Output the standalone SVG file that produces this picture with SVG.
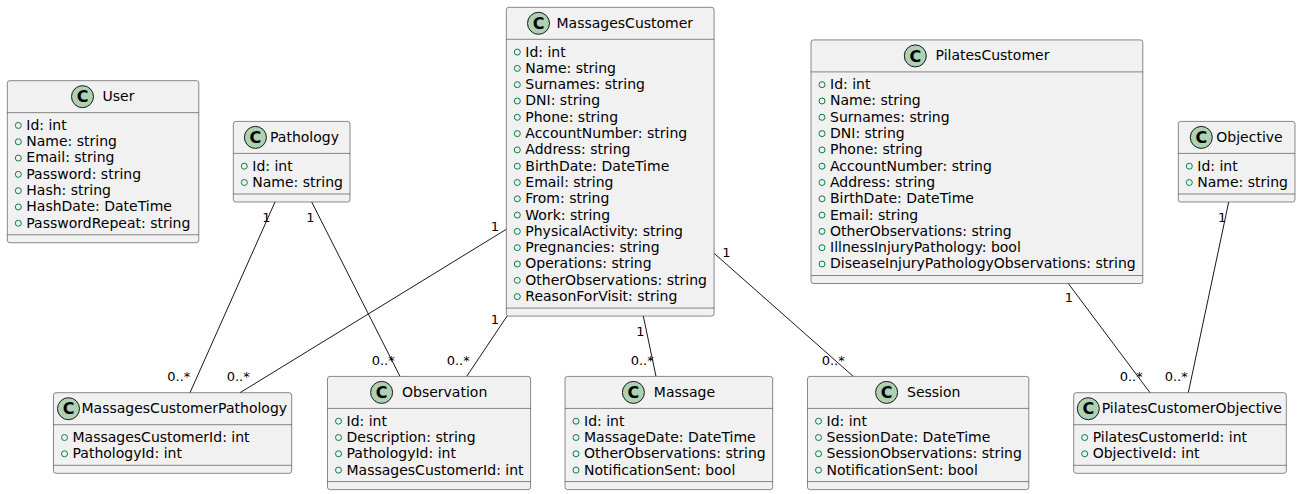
<svg xmlns="http://www.w3.org/2000/svg" width="1301" height="494" viewBox="0 0 1301 494">
<style>
.box{fill:#F1F1F1;stroke:#181818;stroke-width:0.5}
.sep{stroke:#181818;stroke-width:0.5}
.circ{fill:#ADD1B2;stroke:#181818;stroke-width:1}
.cg{font-family:"DejaVu Sans",sans-serif;font-weight:bold;font-size:16px;fill:#000;text-anchor:middle}
.name{font-family:"DejaVu Sans",sans-serif;font-size:14px;fill:#000}
.attr{font-family:"DejaVu Sans",sans-serif;font-size:14px;fill:#000}
.vis{fill:none;stroke:#038048;stroke-width:1}
.lbl{font-family:"DejaVu Sans",sans-serif;font-size:13px;fill:#000}
.link{stroke:#181818;stroke-width:1;fill:none}
</style>
<rect width="1301" height="494" fill="#FFFFFF"/>

<g id="connectors">
<path class="link" d="M275,202 L190,392.7"/>
<path class="link" d="M311.7,202 L400,376.4"/>
<path class="link" d="M506.3,229.3 L240,392.7"/>
<path class="link" d="M507.3,315.7 L466.7,376.4"/>
<path class="link" d="M643.3,316.1 L656,376.4"/>
<path class="link" d="M714.1,253.3 L853.3,376.4"/>
<path class="link" d="M1068.3,283.5 L1150,392.7"/>
<path class="link" d="M1228.7,202 L1188.3,392.7"/>
<text class="lbl" x="262.3" y="221.7">1</text>
<text class="lbl" x="167.3" y="381">0..*</text>
<text class="lbl" x="306.3" y="221.7">1</text>
<text class="lbl" x="371.7" y="365">0..*</text>
<text class="lbl" x="490.7" y="231">1</text>
<text class="lbl" x="226.7" y="381">0..*</text>
<text class="lbl" x="490.7" y="324">1</text>
<text class="lbl" x="446.7" y="365">0..*</text>
<text class="lbl" x="636.3" y="336">1</text>
<text class="lbl" x="630.7" y="365">0..*</text>
<text class="lbl" x="722.3" y="256.7">1</text>
<text class="lbl" x="821.7" y="365">0..*</text>
<text class="lbl" x="1064.7" y="302.3">1</text>
<text class="lbl" x="1119.7" y="381">0..*</text>
<text class="lbl" x="1218" y="221.7">1</text>
<text class="lbl" x="1164.7" y="381">0..*</text>
</g>

<g id="User">
<rect class="box" x="7.3" y="80.65" width="191.5" height="162.1" rx="2.5" ry="2.5"/>
<ellipse class="circ" cx="82.5" cy="96.65" rx="11" ry="11"/>
<text class="cg" x="82.5" y="102.4">C</text>
<text class="name" x="102.5" y="101.1">User</text>
<line class="sep" x1="7.3" y1="112.65" x2="198.8" y2="112.65"/>
<ellipse class="vis" cx="18.3" cy="125.45" rx="3" ry="3"/><text class="attr" x="26.3" y="129.85">Id: int</text>
<ellipse class="vis" cx="18.3" cy="141.75" rx="3" ry="3"/><text class="attr" x="26.3" y="146.15">Name: string</text>
<ellipse class="vis" cx="18.3" cy="158.05" rx="3" ry="3"/><text class="attr" x="26.3" y="162.45">Email: string</text>
<ellipse class="vis" cx="18.3" cy="174.35" rx="3" ry="3"/><text class="attr" x="26.3" y="178.75">Password: string</text>
<ellipse class="vis" cx="18.3" cy="190.65" rx="3" ry="3"/><text class="attr" x="26.3" y="195.05">Hash: string</text>
<ellipse class="vis" cx="18.3" cy="206.95" rx="3" ry="3"/><text class="attr" x="26.3" y="211.35">HashDate: DateTime</text>
<ellipse class="vis" cx="18.3" cy="223.25" rx="3" ry="3"/><text class="attr" x="26.3" y="227.65">PasswordRepeat: string</text>
<line class="sep" x1="7.3" y1="234.75" x2="198.8" y2="234.75"/>
</g>

<g id="Pathology">
<rect class="box" x="233.3" y="121.4" width="116.7" height="80.6" rx="2.5" ry="2.5"/>
<ellipse class="circ" cx="255.4" cy="137.4" rx="11" ry="11"/>
<text class="cg" x="255.4" y="143.1">C</text>
<text class="name" x="270" y="141.9">Pathology</text>
<line class="sep" x1="233.3" y1="153.4" x2="350" y2="153.4"/>
<ellipse class="vis" cx="244.3" cy="166.2" rx="3" ry="3"/><text class="attr" x="252.3" y="170.6">Id: int</text>
<ellipse class="vis" cx="244.3" cy="182.5" rx="3" ry="3"/><text class="attr" x="252.3" y="186.9">Name: string</text>
<line class="sep" x1="233.3" y1="194" x2="350" y2="194"/>
</g>

<g id="MassagesCustomer">
<rect class="box" x="506.3" y="7.3" width="207.8" height="308.8" rx="2.5" ry="2.5"/>
<ellipse class="circ" cx="538.5" cy="23.3" rx="11" ry="11"/>
<text class="cg" x="538.5" y="29">C</text>
<text class="name" x="556.5" y="27.8">MassagesCustomer</text>
<line class="sep" x1="506.3" y1="39.3" x2="714.1" y2="39.3"/>
<ellipse class="vis" cx="517.3" cy="52.1" rx="3" ry="3"/><text class="attr" x="525.3" y="56.5">Id: int</text>
<ellipse class="vis" cx="517.3" cy="68.4" rx="3" ry="3"/><text class="attr" x="525.3" y="72.8">Name: string</text>
<ellipse class="vis" cx="517.3" cy="84.7" rx="3" ry="3"/><text class="attr" x="525.3" y="89.1">Surnames: string</text>
<ellipse class="vis" cx="517.3" cy="101" rx="3" ry="3"/><text class="attr" x="525.3" y="105.4">DNI: string</text>
<ellipse class="vis" cx="517.3" cy="117.3" rx="3" ry="3"/><text class="attr" x="525.3" y="121.7">Phone: string</text>
<ellipse class="vis" cx="517.3" cy="133.6" rx="3" ry="3"/><text class="attr" x="525.3" y="138">AccountNumber: string</text>
<ellipse class="vis" cx="517.3" cy="149.9" rx="3" ry="3"/><text class="attr" x="525.3" y="154.3">Address: string</text>
<ellipse class="vis" cx="517.3" cy="166.2" rx="3" ry="3"/><text class="attr" x="525.3" y="170.6">BirthDate: DateTime</text>
<ellipse class="vis" cx="517.3" cy="182.5" rx="3" ry="3"/><text class="attr" x="525.3" y="186.9">Email: string</text>
<ellipse class="vis" cx="517.3" cy="198.8" rx="3" ry="3"/><text class="attr" x="525.3" y="203.2">From: string</text>
<ellipse class="vis" cx="517.3" cy="215.1" rx="3" ry="3"/><text class="attr" x="525.3" y="219.5">Work: string</text>
<ellipse class="vis" cx="517.3" cy="231.4" rx="3" ry="3"/><text class="attr" x="525.3" y="235.8">PhysicalActivity: string</text>
<ellipse class="vis" cx="517.3" cy="247.7" rx="3" ry="3"/><text class="attr" x="525.3" y="252.1">Pregnancies: string</text>
<ellipse class="vis" cx="517.3" cy="264" rx="3" ry="3"/><text class="attr" x="525.3" y="268.4">Operations: string</text>
<ellipse class="vis" cx="517.3" cy="280.3" rx="3" ry="3"/><text class="attr" x="525.3" y="284.7">OtherObservations: string</text>
<ellipse class="vis" cx="517.3" cy="296.6" rx="3" ry="3"/><text class="attr" x="525.3" y="301">ReasonForVisit: string</text>
<line class="sep" x1="506.3" y1="308.1" x2="714.1" y2="308.1"/>
</g>

<g id="PilatesCustomer">
<rect class="box" x="811" y="39.9" width="331.8" height="243.6" rx="2.5" ry="2.5"/>
<ellipse class="circ" cx="915.3" cy="55.9" rx="11" ry="11"/>
<text class="cg" x="915.3" y="61.6">C</text>
<text class="name" x="935.5" y="60.4">PilatesCustomer</text>
<line class="sep" x1="811" y1="71.9" x2="1142.8" y2="71.9"/>
<ellipse class="vis" cx="822" cy="84.7" rx="3" ry="3"/><text class="attr" x="830" y="89.1">Id: int</text>
<ellipse class="vis" cx="822" cy="101" rx="3" ry="3"/><text class="attr" x="830" y="105.4">Name: string</text>
<ellipse class="vis" cx="822" cy="117.3" rx="3" ry="3"/><text class="attr" x="830" y="121.7">Surnames: string</text>
<ellipse class="vis" cx="822" cy="133.6" rx="3" ry="3"/><text class="attr" x="830" y="138">DNI: string</text>
<ellipse class="vis" cx="822" cy="149.9" rx="3" ry="3"/><text class="attr" x="830" y="154.3">Phone: string</text>
<ellipse class="vis" cx="822" cy="166.2" rx="3" ry="3"/><text class="attr" x="830" y="170.6">AccountNumber: string</text>
<ellipse class="vis" cx="822" cy="182.5" rx="3" ry="3"/><text class="attr" x="830" y="186.9">Address: string</text>
<ellipse class="vis" cx="822" cy="198.8" rx="3" ry="3"/><text class="attr" x="830" y="203.2">BirthDate: DateTime</text>
<ellipse class="vis" cx="822" cy="215.1" rx="3" ry="3"/><text class="attr" x="830" y="219.5">Email: string</text>
<ellipse class="vis" cx="822" cy="231.4" rx="3" ry="3"/><text class="attr" x="830" y="235.8">OtherObservations: string</text>
<ellipse class="vis" cx="822" cy="247.7" rx="3" ry="3"/><text class="attr" x="830" y="252.1">IllnessInjuryPathology: bool</text>
<ellipse class="vis" cx="822" cy="264" rx="3" ry="3"/><text class="attr" x="830" y="268.4">DiseaseInjuryPathologyObservations: string</text>
<line class="sep" x1="811" y1="275.5" x2="1142.8" y2="275.5"/>
</g>

<g id="Objective">
<rect class="box" x="1178.3" y="121.4" width="116.7" height="80.6" rx="2.5" ry="2.5"/>
<ellipse class="circ" cx="1201.3" cy="137.4" rx="11" ry="11"/>
<text class="cg" x="1201.3" y="143.1">C</text>
<text class="name" x="1216.3" y="141.9">Objective</text>
<line class="sep" x1="1178.3" y1="153.4" x2="1295" y2="153.4"/>
<ellipse class="vis" cx="1189.3" cy="166.2" rx="3" ry="3"/><text class="attr" x="1197.3" y="170.6">Id: int</text>
<ellipse class="vis" cx="1189.3" cy="182.5" rx="3" ry="3"/><text class="attr" x="1197.3" y="186.9">Name: string</text>
<line class="sep" x1="1178.3" y1="194" x2="1295" y2="194"/>
</g>

<g id="MassagesCustomerPathology">
<rect class="box" x="53.5" y="392.7" width="238.2" height="80.6" rx="2.5" ry="2.5"/>
<ellipse class="circ" cx="68.5" cy="408.7" rx="11" ry="11"/>
<text class="cg" x="68.5" y="414.4">C</text>
<text class="name" x="81.5" y="413.2">MassagesCustomerPathology</text>
<line class="sep" x1="53.5" y1="424.7" x2="291.7" y2="424.7"/>
<ellipse class="vis" cx="64.5" cy="437.5" rx="3" ry="3"/><text class="attr" x="72.5" y="441.9">MassagesCustomerId: int</text>
<ellipse class="vis" cx="64.5" cy="453.8" rx="3" ry="3"/><text class="attr" x="72.5" y="458.2">PathologyId: int</text>
<line class="sep" x1="53.5" y1="465.3" x2="291.7" y2="465.3"/>
</g>

<g id="Observation">
<rect class="box" x="327.5" y="376.4" width="203.1" height="113.2" rx="2.5" ry="2.5"/>
<ellipse class="circ" cx="381.6" cy="392.4" rx="11" ry="11"/>
<text class="cg" x="381.6" y="398.1">C</text>
<text class="name" x="402" y="396.9">Observation</text>
<line class="sep" x1="327.5" y1="408.4" x2="530.6" y2="408.4"/>
<ellipse class="vis" cx="338.5" cy="421.2" rx="3" ry="3"/><text class="attr" x="346.5" y="425.6">Id: int</text>
<ellipse class="vis" cx="338.5" cy="437.5" rx="3" ry="3"/><text class="attr" x="346.5" y="441.9">Description: string</text>
<ellipse class="vis" cx="338.5" cy="453.8" rx="3" ry="3"/><text class="attr" x="346.5" y="458.2">PathologyId: int</text>
<ellipse class="vis" cx="338.5" cy="470.1" rx="3" ry="3"/><text class="attr" x="346.5" y="474.5">MassagesCustomerId: int</text>
<line class="sep" x1="327.5" y1="481.6" x2="530.6" y2="481.6"/>
</g>

<g id="Massage">
<rect class="box" x="565" y="376.4" width="207.7" height="113.2" rx="2.5" ry="2.5"/>
<ellipse class="circ" cx="633.4" cy="392.4" rx="11" ry="11"/>
<text class="cg" x="633.4" y="398.1">C</text>
<text class="name" x="653.8" y="396.9">Massage</text>
<line class="sep" x1="565" y1="408.4" x2="772.7" y2="408.4"/>
<ellipse class="vis" cx="576" cy="421.2" rx="3" ry="3"/><text class="attr" x="584" y="425.6">Id: int</text>
<ellipse class="vis" cx="576" cy="437.5" rx="3" ry="3"/><text class="attr" x="584" y="441.9">MassageDate: DateTime</text>
<ellipse class="vis" cx="576" cy="453.8" rx="3" ry="3"/><text class="attr" x="584" y="458.2">OtherObservations: string</text>
<ellipse class="vis" cx="576" cy="470.1" rx="3" ry="3"/><text class="attr" x="584" y="474.5">NotificationSent: bool</text>
<line class="sep" x1="565" y1="481.6" x2="772.7" y2="481.6"/>
</g>

<g id="Session">
<rect class="box" x="807.5" y="376.4" width="221.3" height="113.2" rx="2.5" ry="2.5"/>
<ellipse class="circ" cx="886.6" cy="392.4" rx="11" ry="11"/>
<text class="cg" x="886.6" y="398.1">C</text>
<text class="name" x="907" y="396.9">Session</text>
<line class="sep" x1="807.5" y1="408.4" x2="1028.8" y2="408.4"/>
<ellipse class="vis" cx="818.5" cy="421.2" rx="3" ry="3"/><text class="attr" x="826.5" y="425.6">Id: int</text>
<ellipse class="vis" cx="818.5" cy="437.5" rx="3" ry="3"/><text class="attr" x="826.5" y="441.9">SessionDate: DateTime</text>
<ellipse class="vis" cx="818.5" cy="453.8" rx="3" ry="3"/><text class="attr" x="826.5" y="458.2">SessionObservations: string</text>
<ellipse class="vis" cx="818.5" cy="470.1" rx="3" ry="3"/><text class="attr" x="826.5" y="474.5">NotificationSent: bool</text>
<line class="sep" x1="807.5" y1="481.6" x2="1028.8" y2="481.6"/>
</g>

<g id="PilatesCustomerObjective">
<rect class="box" x="1073.7" y="392.7" width="212.6" height="80.6" rx="2.5" ry="2.5"/>
<ellipse class="circ" cx="1088.3" cy="408.7" rx="11" ry="11"/>
<text class="cg" x="1088.3" y="414.4">C</text>
<text class="name" x="1101.7" y="413.2">PilatesCustomerObjective</text>
<line class="sep" x1="1073.7" y1="424.7" x2="1286.3" y2="424.7"/>
<ellipse class="vis" cx="1084.7" cy="437.5" rx="3" ry="3"/><text class="attr" x="1092.7" y="441.9">PilatesCustomerId: int</text>
<ellipse class="vis" cx="1084.7" cy="453.8" rx="3" ry="3"/><text class="attr" x="1092.7" y="458.2">ObjectiveId: int</text>
<line class="sep" x1="1073.7" y1="465.3" x2="1286.3" y2="465.3"/>
</g>
</svg>
